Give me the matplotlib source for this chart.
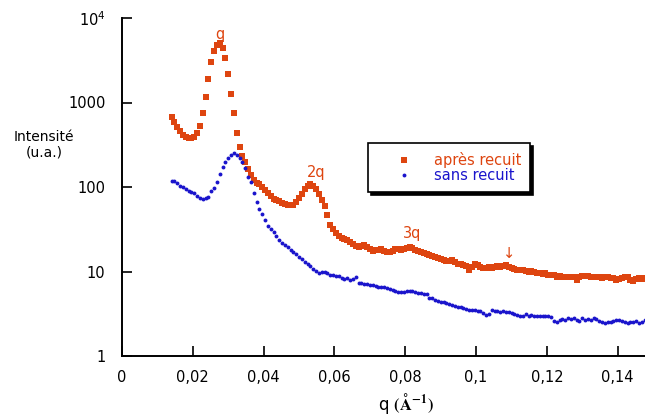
import matplotlib
matplotlib.use("Agg")
import matplotlib.pyplot as plt
import numpy as np
from matplotlib.ticker import FixedLocator, NullLocator

# q grid of the measurement (A^-1)
q_start = 0.0140
q_step = 0.0008

# intensity after annealing (orange)
I_apres = [
    673, 580, 513, 455, 415, 388, 376, 380, 392, 435,
    525, 760, 1150, 1900, 3000, 4100, 4850, 5100, 4400, 3400,
    2150, 1250, 760, 440, 300, 232, 195, 165, 140, 122,
    111, 109, 100, 91, 84.5, 77.5, 72.5, 69.5, 67.5, 65.5,
    63.5, 62, 61, 62, 66.5, 75, 83.5, 95, 103, 108,
    104, 95, 83, 70.5, 59, 46, 35.5, 31.5, 28.5, 26.5,
    24.8, 24.1, 23.8, 22.4, 20.9, 19.8, 19.7, 20.0, 20.4, 19.6,
    18.4, 17.5, 18.2, 18.0, 18.4, 17.6, 17.2, 16.8, 17.6, 18.3,
    18.4, 18.0, 18.5, 18.9, 19.6, 19.0, 18.0, 17.4, 16.9, 16.4,
    16.0, 15.5, 15.2, 15.0, 14.4, 14.0, 13.7, 13.3, 13.4, 13.5,
    12.8, 12.4, 12.3, 12.0, 11.6, 10.5, 11.4, 12.4, 11.8, 11.2,
    11.1, 11.0, 11.3, 11.0, 11.2, 11.5, 11.3, 11.7, 12.0, 11.4,
    11.0, 10.8, 10.4, 10.5, 10.3, 10.2, 10.0, 10.1, 9.8, 9.7,
    9.6, 9.4, 9.5, 9.2, 9.1, 9.0, 8.7, 8.8, 8.7, 8.7,
    8.6, 8.6, 8.5, 7.9, 8.6, 8.8, 8.9, 8.8, 8.7, 8.6,
    8.5, 8.6, 8.3, 8.7, 8.6, 8.4, 8.3, 8.0, 8.2, 8.4,
    8.6, 8.5, 8.0, 7.8, 8.2, 8.3, 8.1, 8.3,
]

# intensity without annealing (blue)
I_sans = [
    118, 118, 112, 103, 99, 94.5, 90, 88, 86, 78,
    73.5, 73, 73.5, 77, 89, 98, 115, 142, 172, 196,
    220, 240, 252, 240, 220, 200, 168, 133, 116, 86,
    67, 55, 48, 40.5, 35, 32, 29.5, 26.5, 23.8, 22,
    20.7, 19.6, 18.2, 16.8, 16.0, 14.8, 14.0, 12.9, 12.2, 11.5,
    10.7, 10.1, 9.7, 9.9, 10.0, 9.6, 9.2, 9.0, 8.9, 8.85,
    8.4, 8.2, 8.3, 8.0, 8.1, 8.6, 7.4, 7.3, 7.2, 7.1,
    7.0, 6.9, 6.7, 6.6, 6.5, 6.5, 6.3, 6.2, 6.0, 5.8,
    5.7, 5.7, 5.75, 5.8, 5.9, 5.8, 5.7, 5.6, 5.5, 5.45,
    5.4, 4.9, 4.8, 4.6, 4.5, 4.4, 4.3, 4.2, 4.1, 4.05,
    3.95, 3.85, 3.75, 3.7, 3.6, 3.55, 3.5, 3.5, 3.45, 3.4,
    3.25, 3.05, 3.1, 3.5, 3.4, 3.45, 3.35, 3.4, 3.35, 3.3,
    3.2, 3.1, 3.05, 2.95, 3.0, 3.1, 3.0, 3.05, 2.95, 3.0,
    2.95, 3.0, 2.95, 3.0, 2.9, 2.6, 2.55, 2.7, 2.75, 2.7,
    2.8, 2.75, 2.8, 2.65, 2.6, 2.85, 2.7, 2.75, 2.65, 2.8,
    2.75, 2.6, 2.5, 2.45, 2.55, 2.5, 2.6, 2.67, 2.65, 2.6,
    2.55, 2.45, 2.55, 2.55, 2.6, 2.45, 2.5, 2.65,
]

q = np.round(q_start + q_step * np.arange(len(I_apres)), 4)

labels = ["après recuit", "sans recuit"]
xticks = [0, 0.02, 0.04, 0.06, 0.08, 0.1, 0.12, 0.14]
xticklabels = ["0", "0,02", "0,04", "0,06", "0,08", "0,1", "0,12", "0,14"]
yticks = [1, 10, 100, 1000, 10000]
yticklabels = ["1", "10", "100", "1000", r"$10^4$"]

peaks = [("q", 0.0277, 6300), ("2q", 0.0548, 150), ("3q", 0.0818, 28), ("↓", 0.1094, 16.5)]

orange = "#de4510"
blue = "#1a14cc"

plt.rcParams["font.family"] = ["DejaVu Sans"]
plt.rcParams["mathtext.fontset"] = "custom"
plt.rcParams["mathtext.rm"] = "DejaVu Sans"
plt.rcParams["mathtext.default"] = "regular"

fig = plt.figure(figsize=(6.45, 4.17), dpi=100)
ax = fig.add_axes([122 / 645, 1 - 356 / 417, 523 / 645, 338 / 417])

ax.plot(q, I_apres, "s", color=orange, markersize=3.8, markeredgewidth=0, label=labels[0])
ax.plot(q, I_sans, "o", color=blue, markersize=2.8, markeredgewidth=0, label=labels[1])

ax.set_yscale("log")
ax.set_xlim(0, 0.1477)
ax.set_ylim(1, 1e4)

ax.xaxis.set_major_locator(FixedLocator(xticks))
ax.set_xticklabels(xticklabels)
ax.yaxis.set_major_locator(FixedLocator(yticks))
ax.yaxis.set_minor_locator(NullLocator())
ax.set_yticklabels(yticklabels)

for s in ["top", "right"]:
    ax.spines[s].set_visible(False)
for s in ["left", "bottom"]:
    ax.spines[s].set_linewidth(1.4)

ax.tick_params(axis="both", direction="in", length=7, width=1.2, labelsize=10.5)
ax.tick_params(axis="y", pad=12)
ax.tick_params(axis="x", pad=10)

for txt, xq, yi in peaks:
    ax.text(xq, yi, txt, color=orange, fontsize=10.5, ha="center", va="center")

fig.text(44 / 645, 1 - 137 / 417, "Intensité", ha="center", va="center", fontsize=10)
fig.text(44 / 645, 1 - 153 / 417, "(u.a.)", ha="center", va="center", fontsize=10)

fig.text(406 / 645, 1 - 403 / 417, "q " + r"$\mathbf{(Å^{-1})}$", ha="center", va="center",
         fontsize=12, math_fontfamily="stix")

leg = ax.legend(loc="upper left", bbox_to_anchor=(368 / 645, 1 - 143 / 417),
                bbox_transform=fig.transFigure, borderaxespad=0, fontsize=10.5,
                frameon=True, fancybox=False, shadow={"color": "black", "alpha": 1.0},
                edgecolor="black", framealpha=1, numpoints=1, handlelength=3.8,
                handletextpad=0.15, borderpad=0.6, labelspacing=0.05)
leg.get_frame().set_linewidth(1.2)
for t, c in zip(leg.get_texts(), [orange, blue]):
    t.set_color(c)

fig.savefig("out.png", dpi=100)
